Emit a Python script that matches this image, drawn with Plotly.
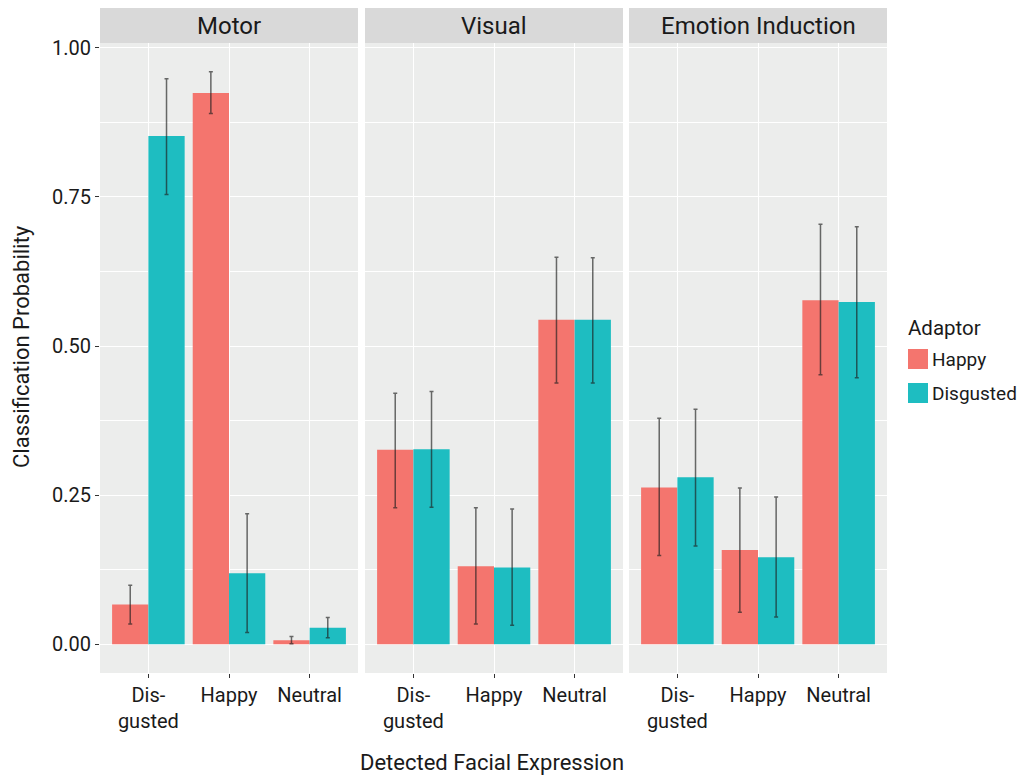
import plotly.graph_objects as go

# ---- data ----
categories = ["Disgusted", "Happy", "Neutral"]
tick_labels = ["Dis-<br>gusted", "Happy", "Neutral"]
panels = ["Motor", "Visual", "Emotion Induction"]
adaptors = ["Happy", "Disgusted"]

# values per panel (order of categories)
happy_mean = {
    "Motor": [0.067, 0.924, 0.007],
    "Visual": [0.326, 0.131, 0.544],
    "Emotion Induction": [0.263, 0.158, 0.577],
}
happy_lo = {
    "Motor": [0.034, 0.890, 0.001],
    "Visual": [0.229, 0.034, 0.438],
    "Emotion Induction": [0.149, 0.054, 0.452],
}
happy_hi = {
    "Motor": [0.099, 0.960, 0.013],
    "Visual": [0.421, 0.229, 0.649],
    "Emotion Induction": [0.379, 0.262, 0.704],
}
disg_mean = {
    "Motor": [0.852, 0.119, 0.028],
    "Visual": [0.327, 0.129, 0.544],
    "Emotion Induction": [0.280, 0.146, 0.574],
}
disg_lo = {
    "Motor": [0.754, 0.020, 0.011],
    "Visual": [0.230, 0.032, 0.438],
    "Emotion Induction": [0.165, 0.046, 0.447],
}
disg_hi = {
    "Motor": [0.948, 0.219, 0.045],
    "Visual": [0.424, 0.227, 0.648],
    "Emotion Induction": [0.394, 0.247, 0.700],
}
y_ticks = [0.0, 0.25, 0.5, 0.75, 1.0]
y_tick_labels = ["0.00", "0.25", "0.50", "0.75", "1.00"]

colors = {"Happy": "#F4756E", "Disgusted": "#1EBDC1"}
FONT = "Roboto, Liberation Sans, sans-serif"
TXT = "#1a1a1a"

W, H = 1020, 775
L, R, T, B = 100, 133, 43, 102
PW = W - L - R
PH = H - T - B
# panel pixel extents (relative to plot-area left)
px = [(0, 258), (265, 523), (529, 787)]
domains = [[a / PW, b / PW] for a, b in px]

fig = go.Figure()
series = [
    ("Happy", happy_mean, happy_lo, happy_hi),
    ("Disgusted", disg_mean, disg_lo, disg_hi),
]
for i, p in enumerate(panels):
    xa = "x" if i == 0 else f"x{i+1}"
    for name, m, lo, hi in series:
        vals = m[p]
        fig.add_trace(go.Bar(
            x=categories, y=vals, name=name, xaxis=xa, yaxis="y",
            marker=dict(color=colors[name], line=dict(width=0)),
            error_y=dict(type="data", symmetric=False,
                         array=[h - v for h, v in zip(hi[p], vals)],
                         arrayminus=[v - l for v, l in zip(vals, lo[p])],
                         color="rgba(30,30,30,0.65)", thickness=1.5, width=2),
            showlegend=False, offsetgroup=name,
        ))

layout = dict(
    width=W, height=H, margin=dict(l=L, r=R, t=T, b=B),
    paper_bgcolor="white", plot_bgcolor="rgba(0,0,0,0)",
    barmode="group", bargap=0.1, bargroupgap=0,
    font=dict(family=FONT, color=TXT, size=20),
    yaxis=dict(range=[-0.048, 1.008], tickvals=y_ticks, ticktext=y_tick_labels,
               showgrid=True, gridcolor="white", gridwidth=1.4,
               minor=dict(dtick=0.125, tick0=0, showgrid=True, gridcolor="white",
                          gridwidth=0.7, ticklen=0),
               zeroline=False, ticks="outside", ticklen=4, tickwidth=1.2, tickcolor="#333333",
               tickfont=dict(size=20, color=TXT, family=FONT), anchor="x"),
)
shapes = []
annotations = []
for i, p in enumerate(panels):
    key = "xaxis" if i == 0 else f"xaxis{i+1}"
    layout[key] = dict(domain=domains[i], range=[-0.6, 2.6], type="category",
                       tickvals=categories, ticktext=tick_labels,
                       showgrid=True, gridcolor="white", gridwidth=1.4, zeroline=False,
                       ticks="outside", ticklen=4, tickwidth=1.2, tickcolor="#333333",
                       tickfont=dict(size=20, color=TXT, family=FONT), anchor="y")
    # panel background
    shapes.append(dict(type="rect", xref="paper", yref="paper",
                       x0=domains[i][0], x1=domains[i][1], y0=0, y1=1,
                       fillcolor="#ECEDEC", line=dict(width=0), layer="below"))
    # strip
    shapes.append(dict(type="rect", xref="paper", yref="paper",
                       x0=domains[i][0], x1=domains[i][1], y0=1, y1=1 + 35 / PH,
                       fillcolor="#D9D9D9", line=dict(width=0), layer="below"))
    annotations.append(dict(text=p, xref="paper", yref="paper",
                            x=(domains[i][0] + domains[i][1]) / 2, y=1 + 17.5 / PH,
                            xanchor="center", yanchor="middle", showarrow=False,
                            font=dict(size=24, color=TXT, family=FONT)))

# axis titles
annotations.append(dict(text="Detected Facial Expression", xref="paper", yref="paper",
                        x=(492 - L) / PW, y=-(762 - (T + PH)) / PH, xanchor="center", yanchor="middle",
                        showarrow=False, font=dict(size=22, color=TXT, family=FONT)))
annotations.append(dict(text="Classification Probability", xref="paper", yref="paper",
                        x=-(L - 22) / PW, y=(T + PH - 347) / PH, xanchor="center", yanchor="middle",
                        textangle=-90, showarrow=False, font=dict(size=22, color=TXT, family=FONT)))

# legend (drawn manually)
def px2x(xp):
    return (xp - L) / PW

def px2y(yp):
    return (T + PH - yp) / PH

annotations.append(dict(text="Adaptor", xref="paper", yref="paper", x=px2x(906), y=px2y(328),
                        xanchor="left", yanchor="middle", showarrow=False,
                        font=dict(size=20.5, color=TXT, family=FONT)))
for k, (name, ytop) in enumerate([("Happy", 349), ("Disgusted", 383)]):
    shapes.append(dict(type="rect", xref="paper", yref="paper",
                       x0=px2x(908), x1=px2x(928), y0=px2y(ytop + 20), y1=px2y(ytop),
                       fillcolor=colors[name], line=dict(width=0)))
    annotations.append(dict(text=name, xref="paper", yref="paper", x=px2x(930), y=px2y(ytop + 10),
                            xanchor="left", yanchor="middle", showarrow=False,
                            font=dict(size=19, color=TXT, family=FONT)))

layout["shapes"] = shapes
layout["annotations"] = annotations
fig.update_layout(**layout)
fig.write_html("out.html", config={"displayModeBar": False},
               post_script="document.body.style.margin='0';")
